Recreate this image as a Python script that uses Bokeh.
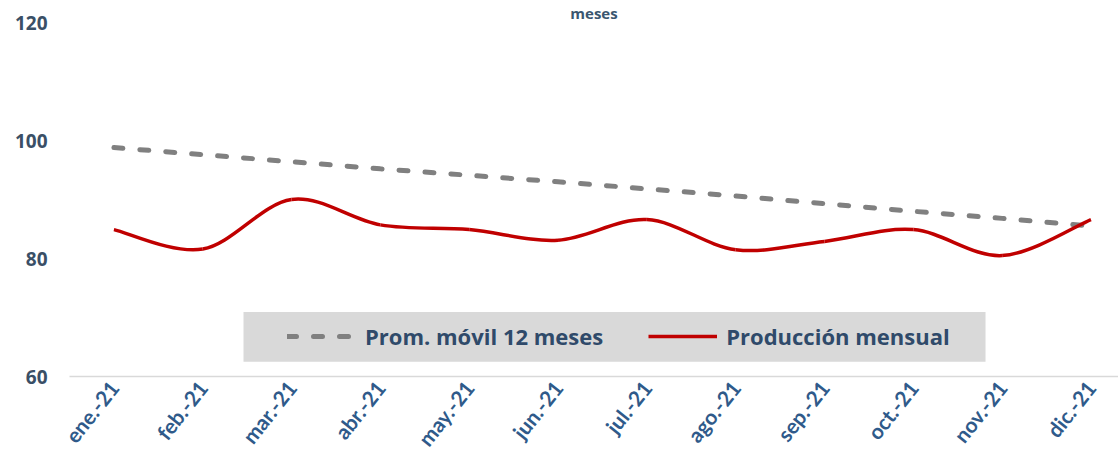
from bokeh.plotting import figure
from bokeh.models import FixedTicker, Range1d, Legend, LegendItem, BoxAnnotation, Title
from bokeh.embed import file_html
from bokeh.resources import INLINE

# ---- data ----
months = ["ene.-21", "feb.-21", "mar.-21", "abr.-21", "may.-21", "jun.-21",
          "jul.-21", "ago.-21", "sep.-21", "oct.-21", "nov.-21", "dic.-21"]
prom_movil = [98.8, 97.6, 96.4, 95.2, 94.1, 93.0, 91.8, 90.6, 89.3, 88.0, 86.8, 85.5]
produccion = [84.9, 81.6, 90.0, 85.7, 84.9, 83.1, 86.6, 81.5, 82.9, 84.9, 80.5, 86.6]
y_ticks = [60, 80, 100, 120]
series_names = ["Prom. móvil 12 meses", "Producción mensual"]
title_tail = "meses"

FONT = "Open Sans"
xs = list(range(len(months)))

p = figure(width=1118, height=461, output_backend="svg", toolbar_location=None,
           x_range=Range1d(-0.5, 11.31), y_range=Range1d(60, 120),
           min_border_left=69, min_border_right=0, min_border_top=21, min_border_bottom=83,
           background_fill_color="white", border_fill_color="white", outline_line_color=None)

# title remnant (only the last word of the title is visible in the reference)
p.add_layout(Title(text=title_tail, align="center", offset=5, standoff=0,
                   text_font=FONT, text_font_style="bold", text_font_size="15px",
                   text_color="#3A5670"), "above")

# moving average (dashed)
r_avg = p.line(xs, prom_movil, line_color="#808080", line_width=5, line_dash="9 17",
               line_cap="round")

# monthly production: smoothed curve (Bezier segments computed from the data)
x0, y0, x1, y1, cx0, cy0, cx1, cy1 = [], [], [], [], [], [], [], []
n = len(produccion)
for i in range(n - 1):
    xp, yp = xs[max(i - 1, 0)], produccion[max(i - 1, 0)]
    xa, ya = xs[i], produccion[i]
    xb, yb = xs[i + 1], produccion[i + 1]
    xn, yn = xs[min(i + 2, n - 1)], produccion[min(i + 2, n - 1)]
    x0.append(xa); y0.append(ya); x1.append(xb); y1.append(yb)
    cx0.append(xa + (xb - xp) / 6.0); cy0.append(ya + (yb - yp) / 6.0)
    cx1.append(xb - (xn - xa) / 6.0); cy1.append(yb - (yn - ya) / 6.0)
r_prod = p.bezier(x0=x0, y0=y0, x1=x1, y1=y1, cx0=cx0, cy0=cy0, cx1=cx1, cy1=cy1,
                  line_color="#C00000", line_width=3.5)

# axes
p.xgrid.visible = False
p.ygrid.visible = False

p.yaxis.ticker = FixedTicker(ticks=y_ticks)
p.yaxis.axis_line_color = None
p.yaxis.major_tick_line_color = None
p.yaxis.major_tick_out = 0
p.yaxis.minor_tick_line_color = None
p.yaxis.major_label_standoff = 22
p.yaxis.major_label_text_font = FONT
p.yaxis.major_label_text_font_style = "bold"
p.yaxis.major_label_text_font_size = "19px"
p.yaxis.major_label_text_color = "#3A4F66"

p.xaxis.ticker = FixedTicker(ticks=xs)
p.xaxis.major_label_overrides = {i: m for i, m in zip(xs, months)}
p.xaxis.major_label_orientation = 0.9
p.xaxis.axis_line_color = "#D9D9D9"
p.xaxis.axis_line_width = 1.5
p.xaxis.major_tick_line_color = None
p.xaxis.major_tick_out = 0
p.xaxis.major_tick_in = 0
p.xaxis.minor_tick_line_color = None
p.xaxis.minor_tick_out = 0
p.xaxis.major_label_standoff = 7
p.xaxis.major_label_text_font = "Lato"
p.xaxis.major_label_text_font_style = "bold"
p.xaxis.major_label_text_font_size = "21px"
p.xaxis.major_label_text_color = "#2F5A8A"

# legend background
p.add_layout(BoxAnnotation(left=1.459, right=9.813, bottom=62.52, top=70.92,
                           fill_color="#D9D9D9", fill_alpha=1.0, line_color=None, level="underlay"))

legend = Legend(items=[LegendItem(label=series_names[0], renderers=[r_avg]),
                       LegendItem(label=series_names[1], renderers=[r_prod])],
                orientation="horizontal", location=(218, 25),
                background_fill_alpha=0, border_line_alpha=0,
                padding=0, margin=0, spacing=45, label_standoff=9,
                glyph_width=69, glyph_height=30, label_height=30,
                label_text_font=FONT, label_text_font_style="bold",
                label_text_font_size="22px", label_text_color="#2F4A6A")
p.add_layout(legend, "center")

open("out.html", "w").write(file_html(p, INLINE))
